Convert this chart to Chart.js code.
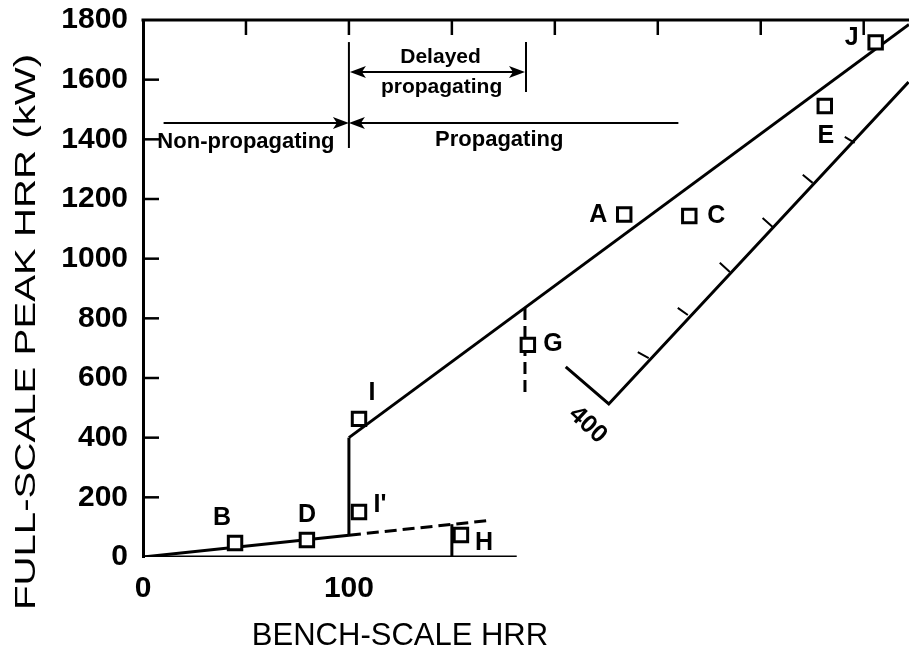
<!DOCTYPE html>
<html>
<head>
<meta charset="utf-8">
<script src="https://cdn.jsdelivr.net/npm/chart.js@4.4.1/dist/chart.umd.min.js"></script>
<style>
  html, body { margin: 0; padding: 0; background: #fff; }
  canvas { display: block; }
</style>
</head>
<body>
<canvas id="chart" width="909" height="651"></canvas>
<script>
// specimen points (bench-scale HRR, full-scale peak HRR in kW)
const pointNames = ['B', 'D', "I'", 'I', 'H', 'G', 'A', 'C', 'E', 'J'];
const pointX = [44.7, 79.6, 104.9, 104.9, 154.4, 186.9, 233.7, 265.3, 331.1, 355.8];
const pointY = [47, 57, 151, 463, 74, 711, 1148, 1143, 1512, 1725];

// correlation lines
const lowerSolid = [[0, 0], [100, 73]];
const lowerDashed = [[100, 73], [169, 123]];
const jumpLine = [[100, 73], [100, 400]];
const upperLine = [[100, 400], [372, 1785]];
const gDashed = [[185.5, 835], [185.5, 533]];
const hLine = [[150, 0], [150, 110]];
const baseLine = [[0, 0], [181.5, 0]];

// second (oblique) axis with its ticks
const obliqueAxis = [[205.3, 637], [226.2, 513], [371.8, 1592]];
const obliqueTicks = [
    [[245.6, 667], [240.3, 687]],
    [[264.6, 811], [259.7, 835]],
    [[285.0, 955], [280.1, 986]],
    [[305.8, 1106], [300.9, 1136]],
    [[325.2, 1254], [320.4, 1281]],
    [[345.6, 1388], [340.8, 1408]]
];
const obliqueLabel = '400';

// regimes
const regimeLevel = 1455;
const delayedLevel = 1626;
const nonPropStart = 10;
const boundary = 100;
const propEnd = 260;
const delayedEnd = 186;

const xTickValues = [0, 100];
const topTickValues = [50, 100, 150, 200, 250, 300, 350];
const yTickValues = [200, 400, 600, 800, 1000, 1200, 1400, 1600];

const FONT = '"Liberation Sans", Arial, Helvetica, sans-serif';

const toXY = pts => pts.map(p => ({ x: p[0], y: p[1] }));

const lineSet = (pts, dash) => ({
    data: toXY(pts),
    showLine: true,
    borderColor: '#000',
    borderWidth: 3,
    borderDash: dash || [],
    pointRadius: 0,
    fill: false,
    order: 2
});

const tickData = [];
obliqueTicks.forEach(t => {
    tickData.push({ x: t[0][0], y: t[0][1] }, { x: t[1][0], y: t[1][1] }, { x: t[1][0], y: null });
});

// label offsets in pixels from each marker
const labelOffsets = {
    'B': [-13, -25], 'D': [0, -25], "I'": [21, -7], 'I': [13, -26], 'H': [23, 8],
    'G': [25, -1], 'A': [-26, 1], 'C': [27, 0], 'E': [1, 30], 'J': [-24, -4]
};

const line = (ctx, x1, y1, x2, y2) => {
    ctx.beginPath();
    ctx.moveTo(x1, y1);
    ctx.lineTo(x2, y2);
    ctx.stroke();
};

const head = (ctx, px, py, dir) => {
    ctx.beginPath();
    ctx.moveTo(px, py);
    ctx.lineTo(px - dir * 16, py - 6);
    ctx.lineTo(px - dir * 12, py);
    ctx.lineTo(px - dir * 16, py + 6);
    ctx.closePath();
    ctx.fill();
};

const decorations = {
    id: 'decorations',
    afterDraw(chart) {
        const { ctx, chartArea: a, scales: { x, y } } = chart;
        ctx.save();
        ctx.strokeStyle = '#000';
        ctx.fillStyle = '#000';
        ctx.lineWidth = 3;

        // top frame and inside ticks
        line(ctx, a.left - 1.5, a.top, a.right, a.top);
        ctx.lineWidth = 2.5;
        topTickValues.forEach(v => {
            const px = x.getPixelForValue(v);
            line(ctx, px, a.top, px, a.top + 15);
        });
        yTickValues.forEach(v => {
            const py = y.getPixelForValue(v);
            line(ctx, a.left, py, a.left + 16, py);
        });

        // regime arrows
        const yb = y.getPixelForValue(regimeLevel);
        const yd = y.getPixelForValue(delayedLevel);
        const xs = x.getPixelForValue(nonPropStart);
        const xb = x.getPixelForValue(boundary);
        const xp = x.getPixelForValue(propEnd);
        const xd = x.getPixelForValue(delayedEnd);
        ctx.lineWidth = 2;
        line(ctx, xs, yb, xb - 10, yb);
        line(ctx, xb + 10, yb, xp, yb);
        head(ctx, xb, yb, 1);
        head(ctx, xb, yb, -1);
        line(ctx, xb, y.getPixelForValue(1726), xb, y.getPixelForValue(1371));
        line(ctx, xd, y.getPixelForValue(1726), xd, y.getPixelForValue(1559));
        line(ctx, xb + 10, yd, xd - 10, yd);
        head(ctx, xb + 1, yd, -1);
        head(ctx, xd - 1, yd, 1);

        ctx.font = 'bold 22px ' + FONT;
        ctx.textAlign = 'center';
        ctx.textBaseline = 'alphabetic';
        ctx.fillText('Non-propagating', x.getPixelForValue(50), yb + 25);
        ctx.fillText('Propagating', x.getPixelForValue(173), yb + 23);
        ctx.font = 'bold 21px ' + FONT;
        ctx.fillText('Delayed', x.getPixelForValue(144.5), yd - 9);
        ctx.fillText('propagating', x.getPixelForValue(145), yd + 21);

        // point labels
        ctx.font = 'bold 25px ' + FONT;
        ctx.textBaseline = 'middle';
        pointNames.forEach((n, i) => {
            const o = labelOffsets[n];
            ctx.fillText(n, x.getPixelForValue(pointX[i]) + o[0], y.getPixelForValue(pointY[i]) + o[1]);
        });

        // oblique axis label
        ctx.save();
        ctx.translate(x.getPixelForValue(obliqueAxis[1][0]) - 21, y.getPixelForValue(obliqueAxis[1][1]) + 21);
        ctx.rotate(43 * Math.PI / 180);
        ctx.font = 'bold 25px ' + FONT;
        ctx.fillText(obliqueLabel, 0, 0);
        ctx.restore();

        // axis titles
        ctx.font = '31px ' + FONT;
        ctx.textBaseline = 'alphabetic';
        ctx.fillText('BENCH-SCALE HRR', 400, 645);
        ctx.save();
        ctx.translate(27, 332);
        ctx.rotate(-Math.PI / 2);
        ctx.scale(1.34, 1);
        ctx.font = '30px ' + FONT;
        ctx.textBaseline = 'middle';
        ctx.fillText('FULL-SCALE PEAK HRR (kW)', 0, 0);
        ctx.restore();

        ctx.restore();
    }
};

new Chart(document.getElementById('chart'), {
    type: 'scatter',
    data: {
        datasets: [
            {
                data: pointX.map((v, i) => ({ x: v, y: pointY[i] })),
                pointStyle: 'rect',
                pointRadius: 9.5,
                pointBorderWidth: 3,
                pointBackgroundColor: '#fff',
                pointBorderColor: '#000',
                showLine: false,
                order: 0
            },
            lineSet(lowerSolid),
            lineSet(lowerDashed, [12, 6]),
            lineSet(jumpLine),
            lineSet(upperLine),
            lineSet(gDashed, [12, 6]),
            lineSet(hLine),
            lineSet(baseLine),
            lineSet(obliqueAxis),
            Object.assign(lineSet([]), { data: tickData, borderWidth: 2, spanGaps: false })
        ]
    },
    options: {
        responsive: false,
        animation: false,
        layout: { autoPadding: false, padding: { top: 20, left: 0, right: 0, bottom: 0 } },
        plugins: {
            legend: { display: false },
            tooltip: { enabled: false }
        },
        scales: {
            x: {
                type: 'linear',
                min: 0,
                max: 372,
                grid: { display: false, drawTicks: false },
                border: { display: false },
                afterBuildTicks: scale => { scale.ticks = xTickValues.map(v => ({ value: v })); },
                afterFit: scale => {
                    scale.height = 94;
                    scale.paddingLeft = 0;
                    scale.paddingRight = 0;
                },
                ticks: {
                    color: '#000',
                    padding: 14,
                    maxRotation: 0,
                    font: { family: FONT, size: 30, weight: 'bold' }
                }
            },
            y: {
                min: 0,
                max: 1800,
                grid: { display: false, drawTicks: false },
                border: { display: true, color: '#000', width: 3 },
                afterFit: scale => {
                    scale.width = 143;
                    scale.paddingTop = 0;
                    scale.paddingBottom = 0;
                },
                ticks: {
                    stepSize: 200,
                    color: '#000',
                    padding: 15,
                    callback: v => String(v),
                    font: { family: FONT, size: 30, weight: 'bold' }
                }
            }
        }
    },
    plugins: [decorations]
});
</script>
</body>
</html>
